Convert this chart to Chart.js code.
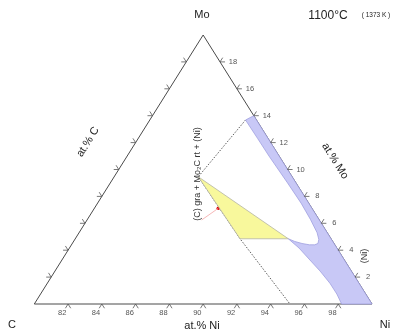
<!DOCTYPE html>
<html>
<head>
<meta charset="utf-8">
<script src="https://cdn.jsdelivr.net/npm/chart.js@4.4.0/dist/chart.umd.min.js"></script>
<style>
  html, body { margin: 0; padding: 0; background: #fff; }
  #c { display: block; }
</style>
</head>
<body>
<canvas id="c" width="396" height="331"></canvas>
<script>
// ternary points are [at.% Ni, at.% Mo]; at.% C = 100 - Ni - Mo
const triangle = [[80, 0], [100, 0], [80, 20], [80, 0]];

// (Ni) single phase field
const fccRegion = [
  [85.67, 13.68], [87.08, 12.3], [88.4, 11.0], [90.5, 9.0], [92.05, 7.5],
  [93.2, 6.3], [94.1, 5.3], [94.45, 4.8], [94.55, 4.5], [94.4, 4.4],
  [94.1, 4.4], [93.6, 4.5], [93.1, 4.65], [92.62, 4.85],
  [93.60, 4.16], [94.69, 3.27], [95.70, 2.45], [96.74, 1.54], [97.55, 0.74], [98.2, 0],
  [100, 0], [86, 14], [85.67, 13.68]
];

// three phase triangle gra + Mo2C + (Ni)
const threePhase = [[84.98, 9.46], [92.62, 4.85], [89.76, 4.85], [84.98, 9.46]];

const dottedLine = [[85.67, 13.68], [84.98, 9.46], [89.76, 4.85], [95.14, 0]];
const pointerLine = [[86.79, 6.25], [87.34, 7.12]];
const redPoint = [[87.34, 7.12]];

const niTicks = [82, 84, 86, 88, 90, 92, 94, 96, 98];
const moTicks = [2, 4, 6, 8, 10, 12, 14, 16, 18];
const cTicks = [2, 4, 6, 8, 10, 12, 14, 16, 18];

function toXY(p) {
  return { x: p[0] + p[1] / 2, y: p[1] };
}

const datasets = [
  {
    data: fccRegion.map(toXY), showLine: true, fill: 'shape',
    backgroundColor: '#c8c8f6', borderColor: '#a0a0e0', borderWidth: 0.8,
    pointRadius: 0, clip: false
  },
  {
    data: threePhase.map(toXY), showLine: true, fill: 'shape',
    backgroundColor: '#f8f89c', borderColor: '#b4b4a4', borderWidth: 0.8,
    pointRadius: 0, clip: false
  },
  {
    data: dottedLine.map(toXY), showLine: true, borderColor: '#333',
    borderWidth: 0.8, borderDash: [1.5, 1.5], pointRadius: 0, clip: false
  },
  {
    data: pointerLine.map(toXY), showLine: true, borderColor: '#f4a4a4',
    borderWidth: 0.8, pointRadius: 0, clip: false
  },
  {
    data: redPoint.map(toXY), showLine: false, pointRadius: 1.8,
    pointBackgroundColor: '#e00000', pointBorderWidth: 0, clip: false
  },
  {
    data: triangle.map(toXY), showLine: true, borderColor: '#4a4a4a',
    borderWidth: 1, pointRadius: 0, clip: false
  }
];

const ternaryDecor = {
  id: 'ternaryDecor',
  afterDatasetsDraw(chart) {
    const { ctx, scales } = chart;
    const px = p => { const q = toXY(p); return [scales.x.getPixelForValue(q.x), scales.y.getPixelForValue(q.y)]; };
    const pC = px([80, 0]), pNi = px([100, 0]), pMo = px([80, 20]);
    const unit = (a, b) => { const dx = b[0] - a[0], dy = b[1] - a[1], l = Math.hypot(dx, dy); return [dx / l, dy / l]; };
    const dL = unit(pC, pMo);   // C -> Mo
    const dR = unit(pNi, pMo);  // Ni -> Mo
    const arm = 5;

    ctx.save();
    ctx.strokeStyle = '#555';
    ctx.lineWidth = 0.8;
    function tick(p, a, b) {
      ctx.beginPath();
      ctx.moveTo(p[0] + a[0] * arm, p[1] + a[1] * arm);
      ctx.lineTo(p[0], p[1]);
      ctx.lineTo(p[0] + b[0] * arm, p[1] + b[1] * arm);
      ctx.stroke();
    }
    ctx.fillStyle = '#555';
    ctx.font = '7.5px "Liberation Sans", Arial, sans-serif';
    ctx.textAlign = 'center';
    ctx.textBaseline = 'middle';
    niTicks.forEach(v => {
      const p = px([v, 0]);
      tick(p, [-dL[0], -dL[1]], [-dR[0], -dR[1]]);
      ctx.fillText(String(v), p[0] - dL[0] * 11, p[1] - dL[1] * 11);
    });
    moTicks.forEach(v => {
      const p = px([100 - v, v]);
      tick(p, [1, 0], dL);
      ctx.fillText(String(v), p[0] + 13, p[1]);
    });
    cTicks.forEach(v => {
      const p = px([80, 20 - v]);
      tick(p, [-1, 0], dR);
    });

    // titles and axis names
    const F = '"Liberation Sans", Arial, sans-serif';
    ctx.fillStyle = '#222';
    ctx.font = '11px ' + F;
    ctx.fillText('Mo', 202, 15);
    ctx.fillText('C', 12, 325);
    ctx.fillText('Ni', 385, 325);
    ctx.fillText('at.% Ni', 202, 326);
    ctx.font = '12px ' + F;
    ctx.fillText('1100°C', 328, 16);
    ctx.font = '6.5px ' + F;
    ctx.fillText('( 1373 K )', 376, 15);

    function rotText(t, x, y, ang, font, color) {
      ctx.save();
      ctx.translate(x, y);
      ctx.rotate(ang);
      ctx.font = font;
      ctx.fillStyle = color;
      ctx.fillText(t, 0, 0);
      ctx.restore();
    }
    rotText('at.% C', 88, 142, Math.atan2(dL[1], dL[0]), '11px ' + F, '#222');
    rotText('at.% Mo', 335, 161, Math.atan2(-dR[1], -dR[0]), '11px ' + F, '#222');
    rotText('(Ni)', 365, 256, -Math.PI / 2, '9px ' + F, '#333');
    rotText('(C) gra + Mo\u2082C rt + (Ni)', 197.5, 174, -Math.PI / 2, '9px ' + F, '#333');
    ctx.restore();
  }
};

new Chart(document.getElementById('c'), {
  type: 'scatter',
  data: { datasets },
  options: {
    responsive: false,
    animation: false,
    layout: { padding: { left: 34.3, right: 24, top: 35, bottom: 27 } },
    scales: {
      x: { type: 'linear', min: 80, max: 100, display: false },
      y: { type: 'linear', min: 0, max: 20, display: false }
    },
    plugins: { legend: { display: false }, tooltip: { enabled: false } }
  },
  plugins: [ternaryDecor]
});
</script>
</body>
</html>
